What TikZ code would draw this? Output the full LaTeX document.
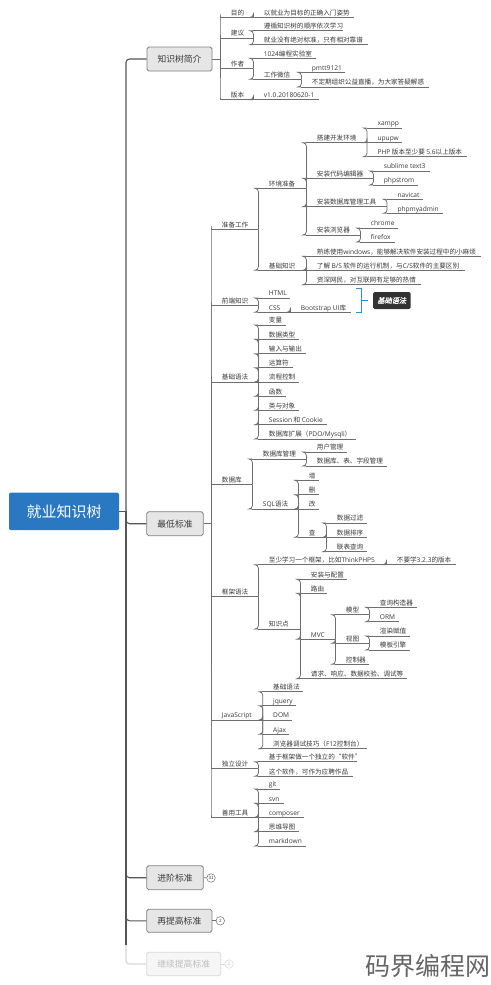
\documentclass[tikz,border=0pt]{standalone}
\usepackage{fontspec}
\setmainfont{Noto Sans CJK SC}
\newfontfamily\latinf{Open Sans}
\newfontfamily\labelf[FakeSlant=0.2,FakeBold=1.2]{Noto Sans CJK SC}
\newcommand\E[1]{{\latinf #1}}
\newcommand\FC{\symbol{"FF0C}}
\newcommand\LP{\symbol{"FF08}}
\newcommand\RP{\symbol{"FF09}}
\definecolor{txt}{HTML}{3A3A3A}
\definecolor{ln}{HTML}{6E6E6E}
\definecolor{tr}{HTML}{555555}
\definecolor{boxf}{HTML}{E6E6E6}
\definecolor{boxd}{HTML}{808080}
\tikzset{
  topic/.style={inner sep=0pt,text height=6.6pt,text depth=2pt,anchor=south west,text=txt,font=\fontsize{6.6}{8}\selectfont},
  underl/.style={draw=ln,line width=0.75pt},
  conn/.style={draw=ln,line width=0.75pt,rounded corners=3.5pt},
  main/.style={draw=tr,line width=1.1pt,rounded corners=3.5pt},
  mainbox/.style={draw=boxd,fill=boxf,line width=0.8pt,rounded corners=1.8pt,minimum height=24pt,inner sep=0pt,text=txt,font=\fontsize{8.8}{10}\selectfont},
  rootbox/.style={fill=rootb,rounded corners=1.5pt,minimum width=110pt,minimum height=37.5pt,inner sep=0pt,text=white,font=\fontsize{15}{18}\selectfont},
  circ/.style={circle,draw=ln,line width=0.5pt,fill=white,minimum size=8.5pt,inner sep=0pt,text=txt,font=\fontsize{4.5}{5}\selectfont},
  faded/.style={draw=fadel,fill=fadef,text=fadet},
  fcirc/.style={draw=fadel,text=fadet},
  sumb/.style={draw=sumc,line width=0.9pt},
  sumlab/.style={fill=labf,rounded corners=1.5pt,inner sep=0pt,minimum width=37.5pt,minimum height=17pt,text=white,font=\labelf\fontsize{7.2}{8}\selectfont},
}
\definecolor{rootb}{HTML}{2A78C2}
\definecolor{fadel}{HTML}{D8D8D8}
\definecolor{fadef}{HTML}{F6F6F6}
\definecolor{fadet}{HTML}{BDBDBD}
\definecolor{sumc}{HTML}{2F8FD8}
\definecolor{labf}{HTML}{333333}
\definecolor{wmc}{HTML}{666666}
% \K{from}{name}{x0}{x1}{y}{text}: topic with underline, connected from its parent
\newcommand\K[6]{%
  \node[topic] (#2) at (#3,#5) {\makebox[\dimexpr #4pt-#3pt\relax][l]{\hspace{10.7pt}#6}};
  \draw[underl] (#2.south west) -- (#2.south east);
  \draw[conn] (#1) |- (#2.south west);
}
\begin{document}
\begin{tikzpicture}[x=1pt,y=-1pt]
\useasboundingbox[fill=white] (0,0) rectangle (490,985);

% root and main boxes
\node[rootbox] (root) at (64,511.3) {就业知识树};
\node[mainbox,minimum width=65pt] (intro) at (179.5,59) {知识树简介};
\node[mainbox,minimum width=56.5pt] (minb) at (175,523.7) {最低标准};
\node[mainbox,minimum width=56.5pt] (adv) at (175,877.7) {进阶标准};
\node[mainbox,minimum width=65.3pt,minimum height=23pt] (higher) at (179.3,920.8) {再提高标准};
\node[mainbox,faded,minimum width=74pt,minimum height=23.4pt] (further) at (183.7,964) {继续提高标准};
\coordinate (hub) at (126,511.3);
\draw[main] (root.east) -- (hub);
\draw[main] (hub) |- (intro.west);
\draw[main] (hub) |- (minb.west);
\draw[main] (hub) |- (adv.west);
\draw[main] (hub) |- (higher.west);
\coordinate (fadestart) at (126,945);
\draw[main,draw=fadel] (fadestart) |- (further.west);
\draw[main] (hub) -- (fadestart);

% collapsed counters
\node[circ] (c31) at (211,878) {31};
\node[circ] (c2a) at (220.3,920.8) {2};
\node[circ,fcirc] (c2b) at (229,964) {2};
\draw[conn] (adv.east) -- (c31);
\draw[conn] (higher.east) -- (c2a);
\draw[conn,draw=fadel] (further.east) -- (c2b);

% 知识树简介
\coordinate (ia) at (220,59);
\draw[conn] (intro.east) -- (ia);
\K{ia}{mu}{220}{253}{17.5}{目的}
\K{mu.south east}{mu1}{253}{354}{17.5}{以就业为目标的正确入门姿势}
\K{ia}{jy}{220}{253}{38}{建议}
\K{jy.south east}{jy1}{253}{343}{30.7}{遵循知识树的顺序依次学习}
\K{jy.south east}{jy2}{253}{368}{44.7}{就业没有绝对标准\FC 只有相对靠谱}
\K{ia}{zz}{220}{253}{68.3}{作者}
\K{zz.south east}{zz1}{253}{316}{58.3}{\E{1024}编程实验室}
\K{zz.south east}{zz2}{253}{301}{79.3}{工作微信}
\K{zz2.south east}{zz3}{301}{345}{72.3}{\E{pmtt9121}}
\K{zz2.south east}{zz4}{301}{429}{87}{不定期组织公益直播\FC 为大家答疑解惑}
\K{ia}{bb}{220}{253}{99.7}{版本}
\K{bb.south east}{bb1}{253}{319}{99.7}{\E{v1.0.20180620-1}}

% 最低标准
\coordinate (ma) at (211,523.7);
\draw[conn] (minb.east) -- (ma);
\K{ma}{zb}{211}{258}{229.7}{准备工作}
\K{zb.south east}{hj}{258}{306}{188.3}{环境准备}
\K{hj.south east}{dj}{306}{366.7}{142.7}{搭建开发环境}
\K{dj.south east}{dj1}{366.7}{401.7}{128}{\E{xampp}}
\K{dj.south east}{dj2}{366.7}{401.7}{142.7}{\E{upupw}}
\K{dj.south east}{dj3}{366.7}{467}{156.7}{\E{PHP} 版本至少要 \E{5.6}以上版本}
\K{hj.south east}{ed}{306}{373}{178.3}{安装代码编辑器}
\K{ed.south east}{ed1}{373}{430}{171}{\E{sublime text3}}
\K{ed.south east}{ed2}{373}{418}{185}{\E{phpstrom}}
\K{hj.south east}{sj}{306}{386.7}{206.7}{安装数据库管理工具}
\K{sj.south east}{sj1}{386.7}{423}{199.3}{\E{navicat}}
\K{sj.south east}{sj2}{386.7}{442.7}{213.3}{\E{phpmyadmin}}
\K{hj.south east}{ll}{306}{360}{235}{安装浏览器}
\K{ll.south east}{ll1}{360}{398}{228}{\E{chrome}}
\K{ll.south east}{ll2}{360}{395}{242}{\E{firefox}}
\K{zb.south east}{jc}{258}{306}{270.3}{基础知识}
\K{jc.south east}{jc1}{306}{480.7}{256.3}{熟练使用\E{windows}\FC 能够解决软件安装过程中的小麻烦}
\K{jc.south east}{jc2}{306}{464.3}{270.3}{了解 \E{B/S} 软件的运行机制\FC 与\E{C/S}软件的主要区别}
\K{jc.south east}{jc3}{306}{420.7}{284.7}{资深网民\FC 对互联网有足够的热情}

\K{ma}{qd}{211}{258}{305.7}{前端知识}
\K{qd.south east}{html}{258}{290}{298}{\E{HTML}}
\K{qd.south east}{css}{258}{290}{312.3}{\E{CSS}}
\K{css.south east}{bs}{290}{351}{312.3}{\E{Bootstrap UI}库}
% summary bracket
\node[sumlab] (slab) at (391.8,300.5) {基础语法};
\coordinate (sumt) at (356,288.7);
\coordinate (sumb) at (356,312.3);
\coordinate (summ) at (361.7,300.5);
\draw[sumb] (sumt) -- (361.7,288.7) -- (361.7,312.3) -- (sumb);
\draw[sumb,shorten >=5pt] (summ) -- (slab.west);

\K{ma}{yf}{211}{258}{382}{基础语法}
\K{yf.south east}{yf1}{258}{285.7}{325}{变量}
\K{yf.south east}{yf2}{258}{299}{339.3}{数据类型}
\K{yf.south east}{yf3}{258}{305.7}{353.7}{输入与输出}
\K{yf.south east}{yf4}{258}{292.3}{367.7}{运算符}
\K{yf.south east}{yf5}{258}{299}{382}{流程控制}
\K{yf.south east}{yf6}{258}{285.7}{396.3}{函数}
\K{yf.south east}{yf7}{258}{299}{410.3}{类与对象}
\K{yf.south east}{yf8}{258}{327}{424.7}{\E{Session} 和 \E{Cookie}}
\K{yf.south east}{yf9}{258}{355.7}{439}{数据库扩展\LP\E{PDO/Mysqli}\RP}

\K{ma}{db}{211}{252}{484.3}{数据库}
\K{db.south east}{dbm}{252}{306}{459}{数据库管理}
\K{dbm.south east}{dbm1}{306}{346.7}{452}{用户管理}
\K{dbm.south east}{dbm2}{306}{386.7}{466}{数据库、表、字段管理}
\K{db.south east}{sql}{252}{298}{509}{\E{SQL}语法}
\K{sql.south east}{sql1}{298}{319}{480.3}{增}
\K{sql.south east}{sql2}{298}{319}{494.7}{删}
\K{sql.south east}{sql3}{298}{319}{509}{改}
\K{sql.south east}{cha}{298}{326}{537.3}{查}
\K{cha.south east}{cha1}{326}{366.7}{523}{数据过滤}
\K{cha.south east}{cha2}{326}{366.7}{537.3}{数据排序}
\K{cha.south east}{cha3}{326}{366.7}{551.7}{联表查询}

\K{ma}{kj}{211}{258}{596.7}{框架语法}
\K{kj.south east}{kj1}{258}{386}{564.7}{至少学习一个框架\FC 比如\E{ThinkPHP5}}
\K{kj1.south east}{kj2}{386}{455.7}{564.7}{不要学\E{3.2.3}的版本}
\K{kj.south east}{zs}{258}{300}{629}{知识点}
\K{zs.south east}{zs1}{300}{346.7}{579.3}{安装与配置}
\K{zs.south east}{zs2}{300}{326.7}{593.3}{路由}
\K{zs.south east}{mvc}{300}{335}{639.3}{\E{MVC}}
\K{mvc.south east}{mx}{335}{369}{614.7}{模型}
\K{mx.south east}{mx1}{369}{416.7}{607.3}{查询构造器}
\K{mx.south east}{mx2}{369}{398.3}{621.7}{\E{ORM}}
\K{mvc.south east}{st}{335}{369}{643.3}{视图}
\K{st.south east}{st1}{369}{410}{636}{渲染赋值}
\K{st.south east}{st2}{369}{410}{650}{模板引擎}
\K{mvc.south east}{kz}{335}{368.3}{664.3}{控制器}
\K{zs.south east}{zs4}{300}{406.7}{678.7}{请求、响应、数据校验、调试等}

\K{ma}{js}{211}{262.3}{720}{\E{JavaScript}}
\K{js.south east}{js1}{262.3}{302.3}{691.7}{基础语法}
\K{js.south east}{js2}{262.3}{295.7}{705.7}{\E{jquery}}
\K{js.south east}{js3}{262.3}{291.7}{720}{\E{DOM}}
\K{js.south east}{js4}{262.3}{289}{734.3}{\E{Ajax}}
\K{js.south east}{js5}{262.3}{366.7}{748.7}{浏览器调试技巧\LP\E{F12}控制台\RP}

\K{ma}{dl}{211}{258}{768.7}{独立设计}
\K{dl.south east}{dl1}{258}{356.7}{761.7}{基于框架做一个独立的“软件”}
\K{dl.south east}{dl2}{258}{352.3}{776.3}{这个软件\FC 可作为应聘作品}

\K{ma}{gj}{211}{258}{817.3}{善用工具}
\K{gj.south east}{gj1}{258}{280}{789}{\E{git}}
\K{gj.south east}{gj2}{258}{283.3}{803.3}{\E{svn}}
\K{gj.south east}{gj3}{258}{303.3}{817.3}{\E{composer}}
\K{gj.south east}{gj4}{258}{299}{831.7}{思维导图}
\K{gj.south east}{gj5}{258}{305.7}{846}{\E{markdown}}

% watermark
\node[inner sep=0pt,anchor=center,text=wmc,font=\fontsize{25}{28}\selectfont] (wm) at (427.5,965.5) {码界编程网};
\end{tikzpicture}
\end{document}
